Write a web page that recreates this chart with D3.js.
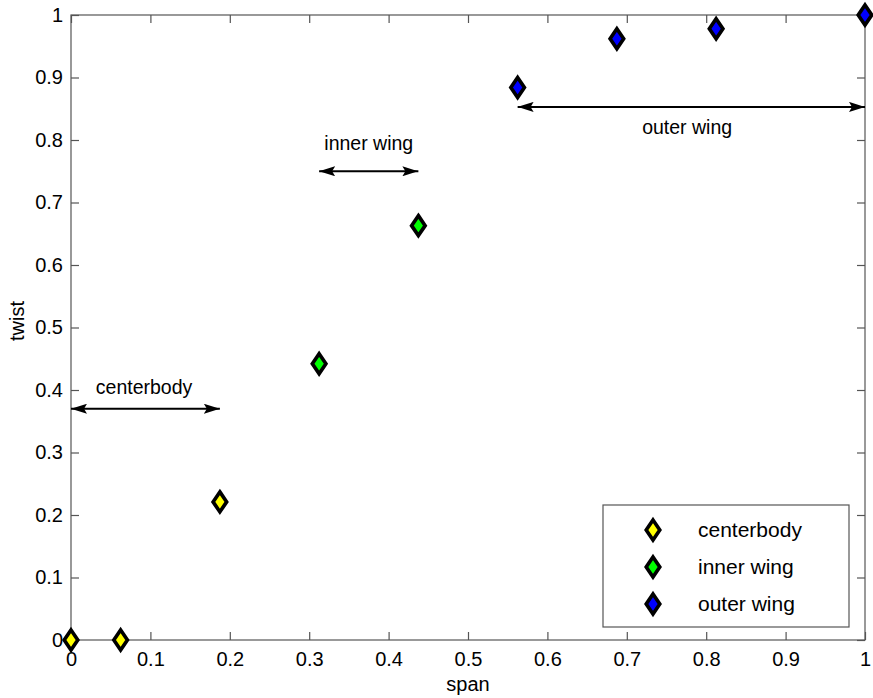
<!DOCTYPE html>
<html><head><meta charset="utf-8">
<script src="https://cdn.jsdelivr.net/npm/d3@7"></script>
<style>body{margin:0;background:#fff}svg{display:block}text{font-family:"Liberation Sans",Arial,sans-serif}</style>
</head><body>
<svg id="c" width="873" height="698"></svg>
<script>
const groups = ["centerbody","inner wing","outer wing"];
const groupColors = ["#ffff00","#00ff00","#0000ff"];
const centerbodySpan = [0, 0.0625, 0.1875];
const centerbodyTwist = [0, 0, 0.221];
const innerSpan = [0.3125, 0.4375];
const innerTwist = [0.442, 0.663];
const outerSpan = [0.5625, 0.6875, 0.8125, 1.0];
const outerTwist = [0.884, 0.962, 0.978, 1.0];
const xTicks = [0,0.1,0.2,0.3,0.4,0.5,0.6,0.7,0.8,0.9,1];
const yTicks = [0,0.1,0.2,0.3,0.4,0.5,0.6,0.7,0.8,0.9,1];
const arrows = [
  {x0:0, x1:0.1875, y:0.37, lx:0.092, ly:0.405, text:"centerbody"},
  {x0:0.3125, x1:0.4375, y:0.75, lx:0.375, ly:0.795, text:"inner wing"},
  {x0:0.5625, x1:1.0, y:0.853, lx:0.776, ly:0.82, text:"outer wing"}
];

const svg = d3.select("#c");
const W = 873, H = 698;
const m = {l:71, t:15, r:W-865, b:H-640};
const x = d3.scaleLinear().domain([0,1]).range([m.l, W-m.r]);
const y = d3.scaleLinear().domain([0,1]).range([H-m.b, m.t]);
const axisColor = "#555";
const fs = 20;

svg.append("rect").attr("x", x(0)).attr("y", y(1)).attr("width", x(1)-x(0)).attr("height", y(0)-y(1))
  .attr("fill","none").attr("stroke",axisColor).attr("stroke-width",1.2);

function styleAxis(g){
  g.select(".domain").remove();
  g.selectAll(".tick line").attr("stroke",axisColor).attr("stroke-width",1.2);
  g.selectAll(".tick text").attr("fill","#000").style("font-size",fs+"px").style("font-family",'"Liberation Sans",Arial,sans-serif');
}
const fmt = d => d===0 ? "0" : d===1 ? "1" : d3.format(".1f")(d);
svg.append("g").attr("transform",`translate(0,${y(0)})`)
  .call(d3.axisBottom(x).tickValues(xTicks).tickFormat(fmt).tickSizeInner(-8).tickSizeOuter(0).tickPadding(12))
  .call(styleAxis);
svg.append("g").attr("transform",`translate(0,${y(1)})`)
  .call(d3.axisTop(x).tickValues(xTicks).tickFormat("").tickSizeInner(-8).tickSizeOuter(0))
  .call(styleAxis);
svg.append("g").attr("transform",`translate(${x(0)},0)`)
  .call(d3.axisLeft(y).tickValues(yTicks).tickFormat(fmt).tickSizeInner(-8).tickSizeOuter(0).tickPadding(8))
  .call(styleAxis);
svg.append("g").attr("transform",`translate(${x(1)},0)`)
  .call(d3.axisRight(y).tickValues(yTicks).tickFormat("").tickSizeInner(-8).tickSizeOuter(0))
  .call(styleAxis);

svg.append("text").attr("x", (x(0)+x(1))/2).attr("y", 691).attr("text-anchor","middle").style("font-size","20px").text("span");
svg.append("text").attr("transform",`translate(24,321) rotate(-90)`).attr("text-anchor","middle").style("font-size","20px").text("twist");

const defs = svg.append("defs");
defs.append("marker").attr("id","ah").attr("viewBox","0 0 16 10").attr("refX",16).attr("refY",5)
  .attr("markerWidth",16).attr("markerHeight",10).attr("markerUnits","userSpaceOnUse").attr("orient","auto-start-reverse")
  .append("path").attr("d","M0,0 L16,5 L0,10 L3,5 Z").attr("fill","#000");
arrows.forEach(a=>{
  svg.append("line").attr("x1",x(a.x0)).attr("x2",x(a.x1)).attr("y1",y(a.y)).attr("y2",y(a.y))
    .attr("stroke","#000").attr("stroke-width",2).attr("marker-start","url(#ah)").attr("marker-end","url(#ah)");
  svg.append("text").attr("x",x(a.lx)).attr("y",y(a.ly)).attr("text-anchor","middle").attr("dy","0.35em")
    .style("font-size","19.5px").text(a.text);
});

const diamond = (cx,cy) => `M${cx},${cy-10} L${cx+6.8},${cy} L${cx},${cy+10} L${cx-6.8},${cy} Z`;
const series = [
  {span:centerbodySpan, twist:centerbodyTwist},
  {span:innerSpan, twist:innerTwist},
  {span:outerSpan, twist:outerTwist}
];
series.forEach((s,i)=>{
  svg.append("g").selectAll("path").data(s.span.map((v,j)=>[v,s.twist[j]])).join("path")
    .attr("d",d=>diamond(x(d[0]),y(d[1]))).attr("fill",groupColors[i]).attr("stroke","#000").attr("stroke-width",3.6).attr("stroke-linejoin","miter");
});

const lg = svg.append("g");
lg.append("rect").attr("x",603).attr("y",505).attr("width",246).attr("height",122).attr("fill","#fff").attr("stroke",axisColor).attr("stroke-width",1.2);
groups.forEach((g,i)=>{
  const cy = 530 + i*37;
  lg.append("path").attr("d",diamond(653,cy)).attr("fill",groupColors[i]).attr("stroke","#000").attr("stroke-width",3.6);
  lg.append("text").attr("x",698).attr("y",cy).attr("dy","0.35em").style("font-size","21px").text(g);
});
</script>
</body></html>
